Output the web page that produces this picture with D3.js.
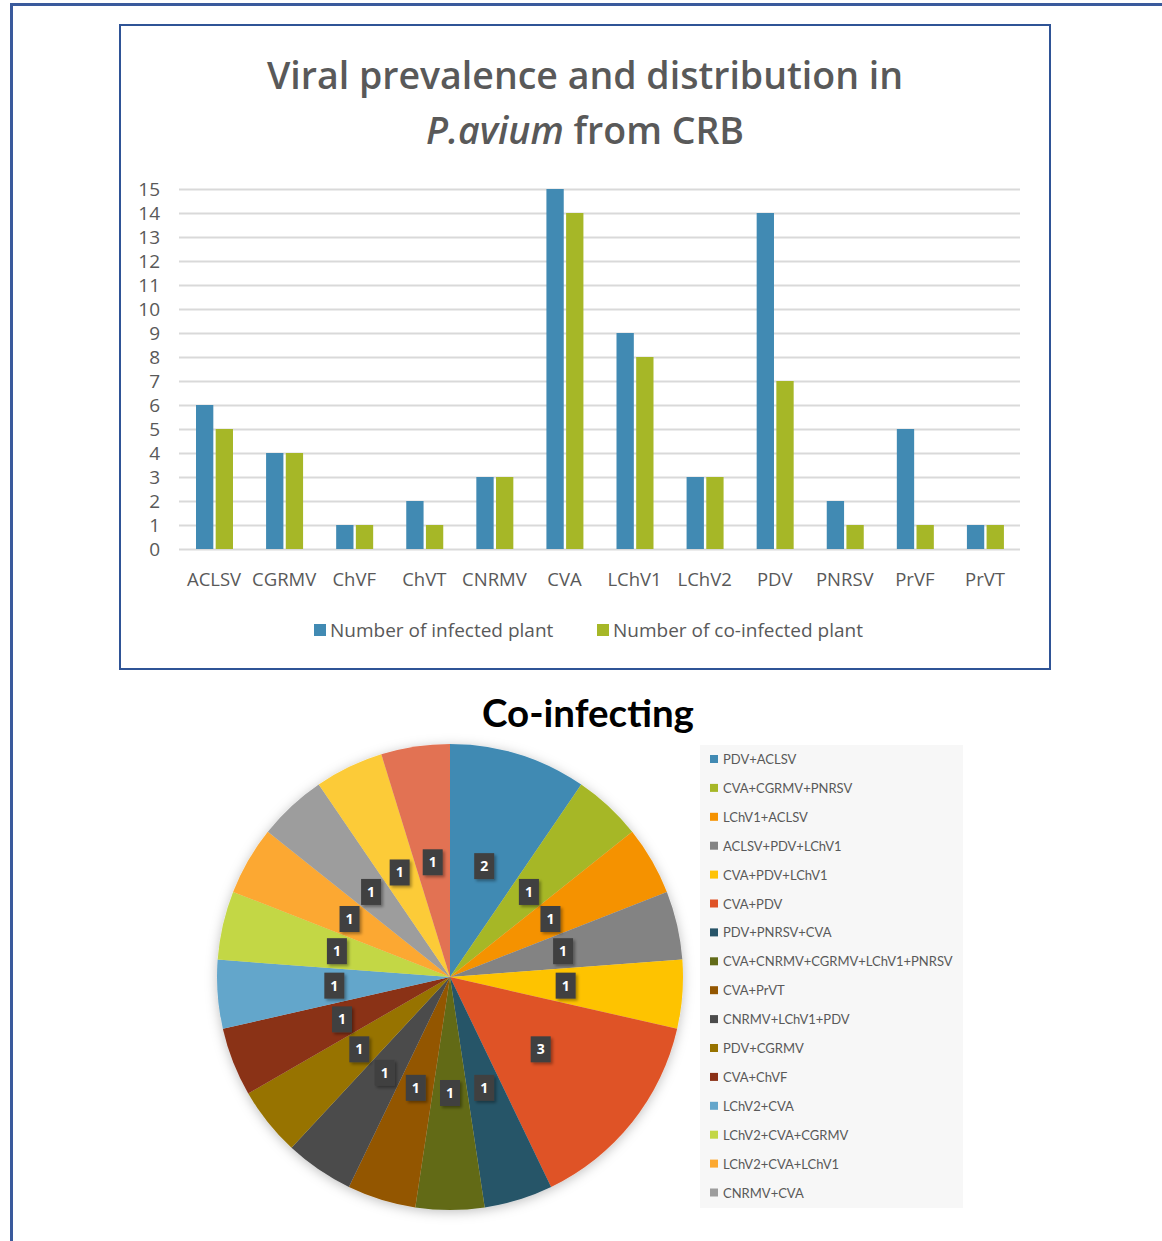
<!DOCTYPE html>
<html>
<head>
<meta charset="utf-8">
<script src="https://cdn.jsdelivr.net/npm/d3@7"></script>
<style>
  body { margin: 0; background: #fff; }
  svg { display: block; }
</style>
</head>
<body>
<div id="chart"></div>
<script>
// bar chart data
var viruses = ["ACLSV", "CGRMV", "ChVF", "ChVT", "CNRMV", "CVA", "LChV1", "LChV2", "PDV", "PNRSV", "PrVF", "PrVT"];
var infected = [6, 4, 1, 2, 3, 15, 9, 3, 14, 2, 5, 1];
var coInfected = [5, 4, 1, 1, 3, 14, 8, 3, 7, 1, 1, 1];
var seriesNames = ["Number of infected plant", "Number of co-infected plant"];
var yTicks = d3.range(0, 16);

// pie data (the last two slices are not listed in the legend)
var combos = ["PDV+ACLSV", "CVA+CGRMV+PNRSV", "LChV1+ACLSV", "ACLSV+PDV+LChV1", "CVA+PDV+LChV1",
  "CVA+PDV", "PDV+PNRSV+CVA", "CVA+CNRMV+CGRMV+LChV1+PNRSV", "CVA+PrVT", "CNRMV+LChV1+PDV",
  "PDV+CGRMV", "CVA+ChVF", "LChV2+CVA", "LChV2+CVA+CGRMV", "LChV2+CVA+LChV1", "CNRMV+CVA",
  "slice 17", "slice 18"];
var comboCounts = [2, 1, 1, 1, 1, 3, 1, 1, 1, 1, 1, 1, 1, 1, 1, 1, 1, 1];
var legendShown = 16;

var barColors = ["#418ab3", "#a6b727"];
var pieColors = ["#418ab3", "#a6b727", "#f59200", "#838383", "#fec306", "#df5327",
  "#275468", "#626b18", "#935600", "#4b4b4b", "#977300", "#8a3016",
  "#64a6cb", "#c3d744", "#fca830", "#9d9d9d", "#fccb37", "#e27253"];

var W = 1162, H = 1241;
var svg = d3.select("#chart").append("svg").attr("width", W).attr("height", H);

var defs = svg.append("defs");
var sh = defs.append("filter").attr("id", "shadow").attr("x", "-20%").attr("y", "-20%").attr("width", "140%").attr("height", "140%");
sh.append("feDropShadow").attr("dx", 0).attr("dy", 2).attr("stdDeviation", 6).attr("flood-color", "#000").attr("flood-opacity", 0.25);
var sh2 = defs.append("filter").attr("id", "lblshadow").attr("x", "-50%").attr("y", "-50%").attr("width", "200%").attr("height", "200%");
sh2.append("feDropShadow").attr("dx", 2).attr("dy", 2).attr("stdDeviation", 1.5).attr("flood-color", "#000").attr("flood-opacity", 0.35);

// outer frame
svg.append("path").attr("d", "M11.5,1241 V4.5 H1162").attr("fill", "none").attr("stroke", "#3a5a9c").attr("stroke-width", 3);

// bar chart box
svg.append("rect").attr("x", 120).attr("y", 25).attr("width", 930).attr("height", 644)
  .attr("fill", "#fff").attr("stroke", "#2f5496").attr("stroke-width", 2);

var title = svg.append("text").attr("text-anchor", "middle").attr("fill", "#595959")
  .style("font-family", "'Open Sans', sans-serif").style("font-weight", 600).style("font-size", "37.5px");
title.append("tspan").attr("x", 585).attr("y", 89).text("Viral prevalence and distribution in");
var t2 = title.append("tspan").attr("x", 585).attr("y", 144);
t2.append("tspan").style("font-style", "italic").text("P.avium");
t2.append("tspan").text(" from CRB");

var x0 = d3.scaleBand().domain(viruses).range([179, 1020]);
var x1 = d3.scaleBand().domain([0, 1]).range([17, 54]).paddingInner(0.12);
var y = d3.scaleLinear().domain([0, 15]).range([549, 189]);

var yAxis = svg.append("g").attr("transform", "translate(179,0)")
  .call(d3.axisLeft(y).tickValues(yTicks).tickSize(-841).tickPadding(19));
yAxis.select(".domain").remove();
yAxis.selectAll("line").attr("stroke", "#d9d9d9").attr("stroke-width", 2);
yAxis.selectAll("text").attr("fill", "#595959").style("font-family", "'Open Sans', sans-serif").style("font-size", "19px");

var groups = svg.append("g").selectAll("g").data(viruses).enter().append("g")
  .attr("transform", function(d) { return "translate(" + x0(d) + ",0)"; });
groups.selectAll("rect").data(function(d, i) { return [infected[i], coInfected[i]]; }).enter().append("rect")
  .attr("x", function(d, j) { return x1(j); })
  .attr("y", function(d) { return y(d); })
  .attr("width", x1.bandwidth())
  .attr("height", function(d) { return y(0) - y(d); })
  .attr("fill", function(d, j) { return barColors[j]; });

var xAxis = svg.append("g").attr("transform", "translate(0,549)")
  .call(d3.axisBottom(x0).tickSize(0).tickPadding(24));
xAxis.select(".domain").remove();
xAxis.selectAll("text").attr("fill", "#595959").style("font-family", "'Open Sans', sans-serif").style("font-size", "18.5px");

var legX = [314, 597];
seriesNames.forEach(function(name, i) {
  svg.append("rect").attr("x", legX[i]).attr("y", 624).attr("width", 12).attr("height", 12).attr("fill", barColors[i]);
  svg.append("text").attr("x", legX[i] + 16).attr("y", 637).attr("fill", "#595959")
    .style("font-family", "'Open Sans', sans-serif").style("font-size", "19px").text(name);
});

// pie chart
svg.append("rect").attr("x", 700).attr("y", 745).attr("width", 263).attr("height", 463).attr("fill", "#f7f7f7");

svg.append("text").attr("x", 588).attr("y", 727).attr("text-anchor", "middle").attr("fill", "#000")
  .style("font-family", "Lato, sans-serif").style("font-weight", 700).style("font-size", "38.5px").text("Co-infecting");

var cx = 450, cy = 977, r = 233;
var pie = d3.pie().sort(null).value(function(d) { return d; });
var arcs = pie(comboCounts);
var arc = d3.arc().innerRadius(0).outerRadius(r);
var labelArc = d3.arc().innerRadius(116).outerRadius(116);

var pg = svg.append("g").attr("transform", "translate(" + cx + "," + cy + ")");
pg.append("g").attr("filter", "url(#shadow)").selectAll("path").data(arcs).enter().append("path")
  .attr("d", arc).attr("fill", function(d, i) { return pieColors[i]; });

var lbl = pg.selectAll("g.lbl").data(arcs).enter().append("g").attr("class", "lbl")
  .attr("transform", function(d) { var c = labelArc.centroid(d); return "translate(" + c[0] + "," + c[1] + ")"; });
lbl.append("rect").attr("x", -10).attr("y", -13).attr("width", 20).attr("height", 26)
  .attr("fill", "#404040").attr("filter", "url(#lblshadow)");
lbl.append("text").attr("text-anchor", "middle").attr("y", 5).attr("fill", "#fff")
  .style("font-family", "'Open Sans', sans-serif").style("font-weight", 700).style("font-size", "14px")
  .text(function(d) { return d.data; });

var pleg = svg.append("g").selectAll("g").data(combos.slice(0, legendShown)).enter().append("g")
  .attr("transform", function(d, i) { return "translate(710," + (759 + i * 28.9) + ")"; });
pleg.append("rect").attr("x", 0).attr("y", -4).attr("width", 8).attr("height", 8)
  .attr("fill", function(d, i) { return pieColors[i]; });
pleg.append("text").attr("x", 13).attr("y", 5).attr("fill", "#595959")
  .style("font-family", "Lato, sans-serif").style("font-size", "13px").text(function(d) { return d; });
</script>
</body>
</html>
